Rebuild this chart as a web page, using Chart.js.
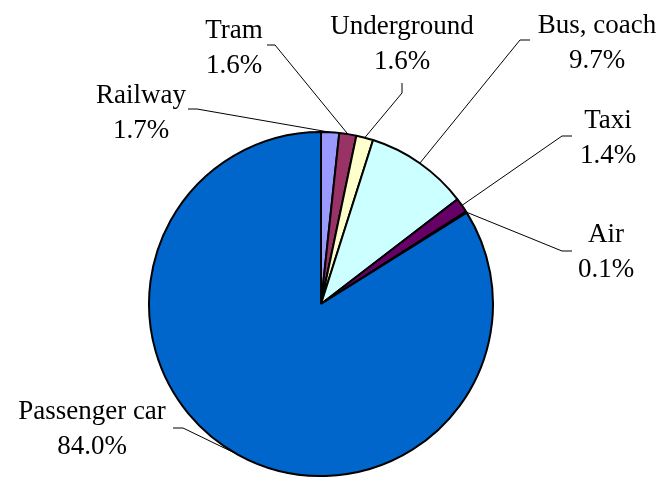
<!DOCTYPE html>
<html>
<head>
<meta charset="utf-8">
<title>Passenger transport by mode</title>
<script src="https://cdn.jsdelivr.net/npm/chart.js@4.4.1/dist/chart.umd.min.js"></script>
<style>
  html, body { margin: 0; padding: 0; background: #ffffff; }
  #wrap { width: 663px; height: 477px; position: relative; }
  canvas { display: block; }
</style>
</head>
<body>
<div id="wrap"><canvas id="chart" width="663" height="477"></canvas></div>
<script>
// Modal split of passenger transport (share of passenger-km, %)
const categories = ['Railway', 'Tram', 'Underground', 'Bus, coach', 'Taxi', 'Air', 'Passenger car'];
const shares = [1.7, 1.6, 1.6, 9.7, 1.4, 0.1, 84.0];
const shareLabels = shares.map(v => v.toFixed(1) + '%');

const sliceColors = ['#9999FF', '#993366', '#FFFFCC', '#CCFFFF', '#660066', '#FF8080', '#0066CC'];

const LABEL_FONT = '27px "Liberation Serif", "DejaVu Serif", serif';

// Where each two-line label sits (centre x, first baseline) and the
// short elbow segment its leader line starts from.
const labelPlacement = [
  { x: 141, y: 103, elbow: [[188, 109], [197, 109]] },
  { x: 234, y: 38,  elbow: [[267, 45],  [275, 45]] },
  { x: 402, y: 34,  elbow: [[402, 83],  [402, 93]] },
  { x: 597, y: 33,  elbow: [[530, 40],  [520, 40]] },
  { x: 608, y: 128, elbow: [[572, 136], [562, 136]] },
  { x: 606, y: 242, elbow: [[572, 251], [562, 251]] },
  { x: 92,  y: 419, elbow: [[173, 428], [183, 428]] }
];

const outsideLabels = {
  id: 'outsideLabels',
  afterDatasetsDraw(chart) {
    const ctx = chart.ctx;
    const meta = chart.getDatasetMeta(0);
    ctx.save();
    meta.data.forEach((arc, i) => {
      const p = arc.getProps(['x', 'y', 'startAngle', 'endAngle', 'outerRadius'], true);
      const mid = (p.startAngle + p.endAngle) / 2;
      const ex = p.x + Math.cos(mid) * p.outerRadius;
      const ey = p.y + Math.sin(mid) * p.outerRadius;
      const pl = labelPlacement[i];

      // leader line: elbow, then straight to the slice rim
      ctx.beginPath();
      ctx.strokeStyle = '#000000';
      ctx.lineWidth = 1;
      ctx.moveTo(pl.elbow[0][0], pl.elbow[0][1]);
      ctx.lineTo(pl.elbow[1][0], pl.elbow[1][1]);
      ctx.lineTo(ex, ey);
      ctx.stroke();

      // category name and percentage
      ctx.fillStyle = '#000000';
      ctx.font = LABEL_FONT;
      ctx.textAlign = 'center';
      ctx.textBaseline = 'alphabetic';
      ctx.fillText(categories[i], pl.x, pl.y);
      ctx.fillText(shareLabels[i], pl.x, pl.y + 35);
    });
    ctx.restore();
  }
};

function drawChart() {
  new Chart(document.getElementById('chart'), {
    type: 'pie',
    data: {
      labels: categories,
      datasets: [{
        data: shares,
        backgroundColor: sliceColors,
        borderColor: '#000000',
        borderWidth: 2
      }]
    },
    options: {
      responsive: false,
      devicePixelRatio: 1,
      animation: false,
      layout: { padding: { left: 148, right: 169, top: 131, bottom: 0 } },
      plugins: {
        legend: { display: false },
        tooltip: { enabled: false }
      }
    },
    plugins: [outsideLabels]
  });
}

if (document.fonts && document.fonts.load) {
  document.fonts.load(LABEL_FONT, 'Railway 1.7%').then(drawChart, drawChart);
} else {
  drawChart();
}
</script>
</body>
</html>
